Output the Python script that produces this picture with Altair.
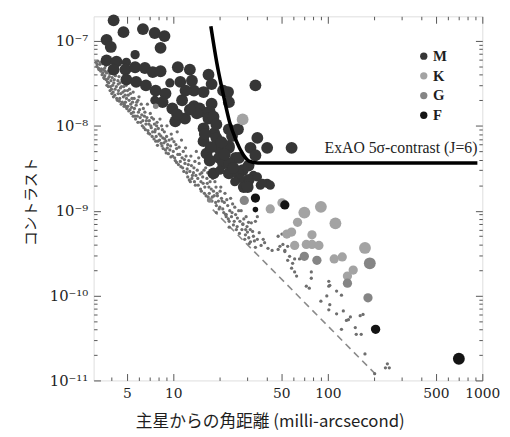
import altair as alt
import pandas as pd

# ---------------- data ----------------
# small simulated dots: (separation mas, contrast)
dots_band = [
    (3.15, 5.6e-8), (3.2, 5.0e-8), (3.25, 5.8e-8), (3.3, 4.6e-8), (3.35, 5.3e-8), (3.4, 4.4e-8),
    (3.5, 5.4e-8), (3.5, 4.2e-8), (3.55, 3.7e-8), (3.6, 4.8e-8), (3.6, 3.9e-8), (3.65, 5.1e-8),
    (3.75, 3.3e-8), (3.8, 4.4e-8), (3.8, 2.9e-8), (3.85, 3.8e-8), (3.9, 2.6e-8), (3.9, 4.9e-8), (3.95, 3.4e-8),
    (4.0, 2.4e-8), (4.05, 3.0e-8), (4.1, 4.1e-8), (4.1, 2.2e-8), (4.15, 3.5e-8), (4.2, 2.7e-8), (4.25, 4.6e-8),
    (4.35, 2.0e-8), (4.4, 3.1e-8), (4.4, 2.4e-8), (4.45, 3.8e-8), (4.5, 2.1e-8), (4.55, 2.8e-8), (4.6, 1.8e-8),
    (4.7, 3.4e-8), (4.75, 2.2e-8), (4.8, 1.7e-8), (4.85, 2.6e-8), (4.9, 1.9e-8), (4.95, 3.0e-8), (5.0, 1.6e-8),
    (5.1, 2.3e-8), (5.15, 1.5e-8), (5.2, 2.7e-8), (5.3, 1.8e-8), (5.35, 1.4e-8), (5.4, 2.1e-8), (5.5, 1.3e-8), (5.5, 2.5e-8),
    (5.6, 1.6e-8), (5.7, 1.2e-8), (5.8, 1.9e-8), (5.9, 1.1e-8), (5.95, 1.45e-8), (6.0, 2.2e-8), (6.1, 1.25e-8),
    (6.3, 1.0e-8), (6.4, 1.6e-8), (6.5, 1.3e-8), (6.6, 9.0e-9), (6.7, 1.15e-8), (6.8, 1.8e-8), (6.9, 8.2e-9), (6.95, 1.05e-8),
    (7.1, 1.4e-8), (7.2, 9.5e-9), (7.3, 7.5e-9), (7.45, 1.2e-8), (7.6, 8.5e-9), (7.7, 6.6e-9), (7.8, 1.0e-8), (7.9, 5.9e-9),
    (8.1, 8.0e-9), (8.2, 1.2e-8), (8.35, 6.2e-9), (8.5, 9.0e-9), (8.6, 5.4e-9), (8.8, 7.0e-9), (9.0, 4.8e-9), (9.1, 1.0e-8), (9.2, 6.0e-9),
    (9.5, 5.2e-9), (9.7, 8.0e-9), (9.9, 4.4e-9), (10.1, 6.5e-9), (10.3, 3.9e-9), (10.5, 5.4e-9), (10.6, 8.5e-9), (10.8, 3.5e-9),
    (11.0, 4.6e-9), (11.3, 6.8e-9), (11.5, 3.2e-9), (11.8, 4.0e-9), (12.0, 5.5e-9), (12.2, 2.8e-9), (12.5, 3.5e-9), (12.7, 2.3e-9),
    (13.0, 4.4e-9), (13.3, 2.6e-9), (13.6, 3.2e-9), (13.9, 2.0e-9), (14.1, 5.0e-9), (14.4, 2.4e-9), (14.7, 3.6e-9), (15.0, 1.8e-9),
    (15.3, 2.8e-9), (15.6, 2.1e-9), (15.9, 1.6e-9), (16.2, 3.2e-9), (16.5, 2.4e-9), (16.8, 1.45e-9), (17.0, 1.9e-9),
    (17.4, 2.6e-9), (17.8, 1.3e-9), (18.2, 1.7e-9), (18.6, 2.2e-9), (19.0, 1.15e-9), (19.3, 1.5e-9), (19.8, 1.05e-9),
    (20.3, 1.9e-9), (20.7, 1.3e-9), (21.2, 9.5e-10), (21.6, 1.6e-9), (22.0, 8.5e-10), (22.5, 1.15e-9), (23.0, 7.5e-10),
    (23.5, 1.4e-9), (24.0, 9.5e-10), (24.5, 6.8e-10), (25.0, 1.1e-9), (25.6, 6.0e-10), (26.0, 8.2e-10),
    (26.8, 5.4e-10), (27.5, 1.0e-9), (28.2, 7.0e-10), (29.0, 4.6e-10), (29.6, 8.5e-10), (30.2, 5.6e-10),
    (31.0, 4.1e-10), (32.0, 7.2e-10), (33.0, 5.0e-10), (34.0, 3.7e-10),
]
dots_band2 = [
    (3.22, 5.3e-8), (3.28, 4.8e-8), (3.38, 5.6e-8), (3.42, 4.7e-8), (3.46, 4.0e-8), (3.52, 4.6e-8),
    (3.58, 3.6e-8), (3.62, 4.4e-8), (3.68, 3.5e-8), (3.7, 4.2e-8), (3.72, 3.0e-8), (3.78, 3.6e-8),
    (3.82, 3.2e-8), (3.88, 4.1e-8), (3.92, 2.9e-8), (3.98, 2.7e-8), (4.02, 3.7e-8), (4.08, 2.5e-8),
    (4.12, 3.2e-8), (4.18, 2.3e-8), (4.22, 3.9e-8), (4.28, 2.9e-8), (4.3, 2.1e-8), (4.38, 3.4e-8),
    (4.42, 2.6e-8), (4.48, 1.95e-8), (4.52, 3.2e-8), (4.58, 2.4e-8), (4.62, 2.9e-8), (4.68, 1.9e-8),
    (4.72, 2.5e-8), (4.78, 2.9e-8), (4.82, 1.8e-8), (4.88, 2.3e-8), (4.92, 1.7e-8), (4.98, 2.1e-8),
    (5.05, 2.6e-8), (5.08, 1.7e-8), (5.18, 2.0e-8), (5.25, 1.55e-8), (5.28, 2.4e-8), (5.38, 1.65e-8),
    (5.45, 1.9e-8), (5.52, 1.45e-8), (5.58, 2.1e-8), (5.65, 1.3e-8), (5.75, 1.75e-8), (5.85, 1.3e-8),
    (5.9, 2.0e-8), (6.05, 1.55e-8), (6.15, 1.1e-8), (6.2, 1.8e-8), (6.25, 1.35e-8), (6.35, 1.15e-8),
    (6.45, 9.5e-9), (6.55, 1.45e-8), (6.65, 1.05e-8), (6.75, 1.25e-8), (6.85, 8.8e-9), (7.0, 1.15e-8),
    (7.05, 8.0e-9), (7.15, 1.0e-8), (7.25, 1.25e-8), (7.35, 8.5e-9), (7.5, 7.0e-9), (7.55, 1.05e-8),
    (7.65, 9.0e-9), (7.75, 7.5e-9), (7.85, 1.1e-8), (7.95, 6.6e-9), (8.0, 9.3e-9), (8.15, 6.8e-9),
    (8.3, 7.6e-9), (8.4, 1.0e-8), (8.45, 5.8e-9), (8.55, 7.2e-9), (8.7, 6.3e-9), (8.75, 8.5e-9),
    (8.9, 5.2e-9), (8.95, 6.6e-9), (9.05, 7.5e-9), (9.15, 5.5e-9), (9.3, 4.7e-9), (9.4, 6.8e-9),
    (9.6, 5.8e-9), (9.65, 4.3e-9), (9.8, 7.0e-9), (10.0, 5.0e-9), (10.2, 4.2e-9), (10.4, 6.0e-9),
    (10.5, 3.7e-9), (10.7, 4.6e-9), (10.9, 5.6e-9), (11.1, 3.8e-9), (11.2, 3.3e-9), (11.4, 4.2e-9),
    (11.6, 5.0e-9), (11.7, 2.9e-9), (11.9, 3.6e-9), (12.1, 4.4e-9), (12.3, 3.1e-9), (12.4, 2.5e-9),
    (12.6, 3.9e-9), (12.8, 2.9e-9), (12.9, 2.2e-9), (13.1, 3.4e-9), (13.2, 2.4e-9), (13.5, 2.8e-9),
    (13.7, 2.2e-9), (13.8, 3.8e-9), (14.0, 2.6e-9), (14.3, 3.0e-9), (14.5, 2.0e-9), (14.6, 4.2e-9),
    (14.9, 2.7e-9), (15.1, 2.2e-9), (15.2, 1.7e-9), (15.5, 2.5e-9), (15.8, 3.0e-9), (16.0, 1.9e-9),
    (16.3, 1.5e-9), (16.6, 2.1e-9), (16.7, 2.8e-9), (17.1, 1.6e-9), (17.3, 2.2e-9), (17.6, 1.8e-9),
    (17.9, 1.45e-9), (18.0, 2.4e-9), (18.4, 1.5e-9), (18.8, 1.25e-9), (18.9, 1.9e-9), (19.2, 1.6e-9),
    (19.6, 1.3e-9), (20.0, 1.1e-9), (20.1, 1.7e-9), (20.5, 1.4e-9), (20.9, 1.05e-9), (21.4, 1.25e-9),
    (21.8, 9.0e-10), (22.2, 1.35e-9), (22.7, 8.0e-10), (23.2, 1.0e-9), (23.8, 8.5e-10), (24.2, 1.2e-9),
    (24.8, 7.5e-10), (25.3, 9.0e-10), (25.9, 6.5e-10), (26.5, 1.0e-9), (27.0, 7.5e-10), (27.8, 6.0e-10),
    (28.6, 8.0e-10), (29.3, 5.2e-10), (30.0, 6.5e-10), (30.8, 4.8e-10), (31.5, 6.0e-10), (33.5, 4.4e-10),
    (36.0, 5.5e-10), (37.0, 3.9e-10), (39.0, 4.2e-10), (41.0, 3.6e-10),
]
dots_sparse = [
    (19.0, 9.5e-10), (22.0, 9.0e-10), (23.0, 6.4e-10), (28.2, 6.9e-10), (29.4, 6.0e-10), (34.0, 7.5e-10),
    (35.0, 8.5e-10), (38.2, 4.6e-10), (43.6, 3.4e-10), (50.5, 5.3e-10), (49.0, 3.8e-10), (52.7, 3.4e-10),
    (56.6, 2.9e-10), (59.2, 2.4e-10), (61.0, 1.9e-10), (65.6, 2.7e-10), (62.8, 1.7e-10), (78.2, 1.9e-10),
    (72.6, 1.29e-10), (101.5, 1.47e-10), (101.5, 1.29e-10), (98.5, 9.9e-11), (114, 1.13e-10), (90.2, 8.6e-11),
    (101.5, 6.8e-11), (114, 6.1e-11), (126, 6.6e-11), (136, 5.2e-11), (150.6, 4.2e-11), (122.6, 4.0e-11),
    (152.8, 3.5e-11), (164.5, 3.5e-11), (169, 6.0e-11), (47.7, 5.0e-10), (51.2, 4.0e-10), (55.0, 3.8e-10),
    (47.7, 3.5e-10), (52.7, 3.3e-10), (55.0, 2.6e-10), (61.0, 2.7e-10), (58.3, 2.1e-10), (75.9, 1.22e-10),
    (78.2, 1.6e-10), (103, 1.32e-10), (122.6, 1.01e-10), (103, 7.8e-11), (140, 5.6e-11), (132, 5.1e-11),
    (162, 5.8e-11), (174, 2.05e-11), (243, 1.57e-11), (236, 1.41e-11), (250, 1.41e-11), (201, 1.2e-11),
    (30.7, 7.3e-10), (32.6, 5.7e-10), (35.0, 4.6e-10), (31.6, 4.3e-10),
]

# planets by host spectral type: (separation mas, contrast, size grade 1-3)
m_points = [
    (4.11, 1.75e-7, 3), (4.76, 1.27e-7, 3), (6.36, 1.38e-7, 3), (7.58, 1.24e-7, 3), (8.77, 1.14e-7, 3),
    (3.7, 1.03e-7, 3), (3.94, 8.5e-8, 3), (8.27, 8.3e-8, 3), (5.66, 6.9e-8, 2), (3.7, 5.9e-8, 3),
    (4.29, 5.7e-8, 3), (4.97, 5.6e-8, 2), (4.11, 4.6e-8, 3), (4.9, 4.6e-8, 3), (5.66, 4.9e-8, 3),
    (6.55, 4.8e-8, 3), (7.36, 4.3e-8, 3), (8.27, 4.4e-8, 3), (10.7, 4.9e-8, 3), (12.8, 4.6e-8, 3),
    (16.9, 4.0e-8, 3), (11.1, 3.3e-8, 3), (13.2, 3.4e-8, 3), (17.7, 3.1e-8, 3), (4.97, 3.5e-8, 3),
    (5.75, 3.3e-8, 3), (6.65, 3.0e-8, 3), (7.69, 2.6e-8, 3), (8.9, 2.4e-8, 3), (13.6, 2.6e-8, 3),
    (15.7, 2.5e-8, 3), (21.0, 2.6e-8, 3), (22.6, 2.5e-8, 3), (34.0, 3.0e-8, 3), (11.4, 2.0e-8, 3),
    (9.86, 1.6e-8, 3), (8.52, 1.9e-8, 3), (13.6, 1.7e-8, 3), (15.3, 1.47e-8, 3), (17.7, 1.82e-8, 3),
    (22.9, 1.9e-8, 3), (14.8, 1.6e-8, 3), (17.2, 1.47e-8, 3), (16.9, 1.22e-8, 3), (11.9, 1.22e-8, 3),
    (10.3, 1.13e-8, 3), (10.6, 1.36e-8, 3), (14.2, 1.4e-8, 3), (18.2, 1.28e-8, 3), (15.7, 9.35e-9, 3),
    (18.4, 8.2e-9, 3), (22.9, 9.1e-9, 3), (19.0, 1.04e-8, 3), (26.2, 9.1e-9, 3), (15.7, 6.6e-9, 3),
    (19.5, 5.5e-9, 3), (22.9, 5.5e-9, 3), (19.0, 7.2e-9, 3), (22.9, 5.8e-9, 3), (35.0, 7.2e-9, 3),
    (31.6, 5.5e-9, 3), (40.5, 5.5e-9, 3), (58.3, 5.5e-9, 3), (16.4, 4.7e-9, 3), (19.8, 4.2e-9, 3),
    (26.6, 4.2e-9, 3), (34.0, 4.5e-9, 3), (17.2, 3.9e-9, 3), (21.0, 3.6e-9, 3), (25.4, 4.2e-9, 3),
    (22.9, 3.6e-9, 3), (30.7, 3.4e-9, 3), (28.1, 3.0e-9, 3), (22.9, 2.75e-9, 3), (18.2, 2.75e-9, 3),
    (26.2, 2.75e-9, 3), (33.0, 2.6e-9, 2), (30.7, 2.3e-9, 3), (40.5, 2.1e-9, 2), (36.6, 2.0e-9, 2),
    (28.6, 1.9e-9, 3), (42.4, 2.0e-9, 2), (35.0, 2.5e-9, 2), (37.7, 2.1e-9, 2), (30.3, 1.9e-9, 3),
    (12.8, 1.55e-8, 3), (7.6, 2.0e-8, 2), (16.0, 8.0e-9, 3), (20.5, 6.4e-9, 3), (24.0, 7.6e-9, 3),
    (17.5, 5.6e-9, 3), (21.5, 4.6e-9, 3), (24.5, 3.2e-9, 3), (20.0, 3.0e-9, 2), (27.0, 2.4e-9, 2),
    (25.0, 2.2e-9, 2), (12.0, 2.6e-8, 3), (9.5, 3.2e-8, 2),
]
k_points = [
    (28.1, 1.19e-8, 3), (42.4, 1.05e-9, 2), (50.5, 1.24e-9, 2), (70.5, 9.5e-10, 3), (90.2, 1.11e-9, 3),
    (63.7, 7.3e-10, 2), (112, 7.1e-10, 3), (174, 3.64e-10, 3), (54.3, 5.3e-10, 2), (58.3, 5.6e-10, 2),
    (79, 5.2e-10, 2), (61, 3.9e-10, 2), (72.6, 4.0e-10, 2), (79, 4.0e-10, 2), (87.6, 3.9e-10, 2),
    (110, 2.7e-10, 2), (124, 2.85e-10, 2), (146, 2.0e-10, 2), (134, 1.7e-10, 2),
]
g_points = [
    (70.5, 2.9e-10, 2), (85, 2.6e-10, 2), (187, 2.4e-10, 3), (134, 1.4e-10, 2), (182, 9.4e-11, 2),
    (28.8, 1.32e-9, 2), (17.2, 1.34e-9, 1), (7.7, 1.7e-8, 1), (198, 4.1e-11, 1),
]
f_points = [
    (204, 4.0e-11, 2), (705, 1.8e-11, 3), (52.7, 1.17e-9, 2), (34.0, 1.41e-9, 2), (34.0, 1.03e-9, 1),
]

# ExAO 5-sigma contrast curve
exao_sep = [17.5, 19.1, 21.1, 23.1, 25.6, 28.3, 30.9, 35.3, 929]
exao_con = [1.49e-7, 5.6e-8, 2.3e-8, 1.12e-8, 6.6e-9, 4.6e-9, 3.85e-9, 3.65e-9, 3.65e-9]
exao_label = ["ExAO 5σ-contrast (J=6)"]
exao_label_sep = [929]
exao_label_con = [4.8e-9]

# dashed lower envelope
limit_sep = [18, 208]
limit_con = [1.03e-9, 1.14e-11]

classes = ["M", "K", "G", "F"]
class_colors = ["#363636", "#a3a3a3", "#858585", "#141414"]

x_ticks = [4, 5, 6, 7, 8, 9, 10, 20, 30, 40, 50, 60, 70, 80, 90,
           100, 200, 300, 400, 500, 600, 700, 800, 900, 1000]
x_major = [5, 10, 50, 100, 500, 1000]
y_ticks = [m * 10.0 ** k for k in range(-11, -7) for m in range(1, 10)] + [1e-7]
y_sup = {-7: "10⁻⁷", -8: "10⁻⁸", -9: "10⁻⁹", -10: "10⁻¹⁰", -11: "10⁻¹¹"}

# ---------------- frames ----------------
dots_df = pd.DataFrame(dots_band + dots_band2 + dots_sparse, columns=["sep", "con"])
rows = []
for cls, pts in zip(classes, [m_points, k_points, g_points, f_points]):
    for s, c, g in pts:
        rows.append({"sep": s, "con": c, "cls": cls, "grade": g})
pts_df = pd.DataFrame(rows)
curve_df = pd.DataFrame({"sep": exao_sep, "con": exao_con})
limit_df = pd.DataFrame({"sep": limit_sep, "con": limit_con})
label_df = pd.DataFrame({"sep": exao_label_sep, "con": exao_label_con, "label": exao_label})

W, H = 395, 370
xs = alt.Scale(type="log", domain=[3.05, 1000], nice=False)
ys = alt.Scale(type="log", domain=[1e-11, 1.95e-7], nice=False)

LOGV = "log(datum.value)/LN10"
EXP = f"round({LOGV})"
ISDEC = f"abs({LOGV} - {EXP}) < 0.001"
y_label_expr = f"{ISDEC} ? (" + " : ".join(
    f"{EXP} == {k} ? '{v}'" for k, v in y_sup.items()) + " : '') : ''"
x_major_list = "[" + ",".join(str(v) for v in x_major) + "]"
x_label_expr = f"indexof({x_major_list}, datum.value) >= 0 ? format(datum.value, 'd') : ''"
x_major_test = f"indexof({x_major_list}, datum.value) >= 0"


def tick_axis(orient, vals, offset, test):
    return alt.Axis(
        orient=orient, offset=offset, values=vals, labels=False, domain=False,
        grid=False, title=None, tickColor="#555555", tickWidth=1,
        tickSize={"condition": {"test": test, "value": 7}, "value": 3.5},
    )


x_lab_axis = alt.Axis(
    orient="bottom", values=x_ticks, ticks=False, domain=False, grid=False,
    labelExpr=x_label_expr, labelOverlap=False, labelFlush=False, labelPadding=6,
    labelFont="DejaVu Serif", labelFontSize=14, labelColor="#1e1e1e",
    title="主星からの角距離 (milli-arcsecond)", titleFont="Noto Sans CJK JP",
    titleFontSize=17, titleFontWeight="normal", titleColor="#1e1e1e",
    titleX=179, titleY=47, titleBaseline="alphabetic", titleAlign="center",
)
y_lab_axis = alt.Axis(
    orient="left", values=y_ticks, ticks=False, domain=False, grid=False,
    labelExpr=y_label_expr, labelOverlap=False, labelFlush=False, labelPadding=6,
    labelFont="DejaVu Serif", labelFontSize=15, labelColor="#1e1e1e",
    labelBaseline="middle",
    title="コントラスト", titleFont="Noto Sans CJK JP", titleFontSize=15,
    titleFontWeight="normal", titleColor="#1e1e1e", titleAngle=270,
    titleX=-64, titleY=188, titleAlign="center", titleBaseline="middle",
)

limit = alt.Chart(limit_df).mark_line(
    color="#8a8a8a", strokeWidth=1.6, strokeDash=[7, 5]
).encode(
    x=alt.X("sep:Q", scale=xs, axis=tick_axis("top", x_ticks, -H, x_major_test)),
    y=alt.Y("con:Q", scale=ys, axis=tick_axis("right", y_ticks, -W, ISDEC)),
)

dots = alt.Chart(dots_df).mark_circle(color="#6e6e6e", size=11, opacity=1).encode(
    x=alt.X("sep:Q", scale=xs, axis=x_lab_axis),
    y=alt.Y("con:Q", scale=ys, axis=y_lab_axis),
)

points = alt.Chart(pts_df).mark_circle(opacity=1).encode(
    x=alt.X("sep:Q", scale=xs, axis=None),
    y=alt.Y("con:Q", scale=ys, axis=None),
    color=alt.Color(
        "cls:N", scale=alt.Scale(domain=classes, range=class_colors),
        legend=alt.Legend(
            orient="none", legendX=328, legendY=33, title=None,
            labelFont="Liberation Serif", labelFontWeight="bold", labelFontSize=15,
            labelColor="#1e1e1e", symbolType="circle", symbolSize=55,
            symbolStrokeWidth=0, rowPadding=4, padding=0, labelOffset=2,
        ),
    ),
    size=alt.Size("grade:Q", scale=alt.Scale(type="linear", domain=[1, 3], range=[32, 145], zero=False),
                  legend=None),
)

curve = alt.Chart(curve_df).mark_line(
    color="#000000", strokeWidth=3.6, interpolate="monotone"
).encode(
    x=alt.X("sep:Q", scale=xs, axis=tick_axis("bottom", x_ticks, -H, x_major_test)),
    y=alt.Y("con:Q", scale=ys, axis=tick_axis("left", y_ticks, -W, ISDEC)),
)

label = alt.Chart(label_df).mark_text(
    align="right", baseline="alphabetic", font="Liberation Serif", fontSize=16,
    color="#1e1e1e",
).encode(
    x=alt.X("sep:Q", scale=xs, axis=None),
    y=alt.Y("con:Q", scale=ys, axis=None),
    text="label:N",
)

chart = alt.layer(limit, dots, points, curve, label).resolve_axis(
    x="independent", y="independent"
).properties(
    width=W, height=H,
    autosize=alt.AutoSizeParams(type="none"),
    padding={"left": 87, "top": 5, "right": 20, "bottom": 54},
).configure_view(
    stroke="#555555", strokeWidth=1.4
).configure(background="white")

chart.save("out.html", embed_options={"renderer": "svg", "actions": False})
